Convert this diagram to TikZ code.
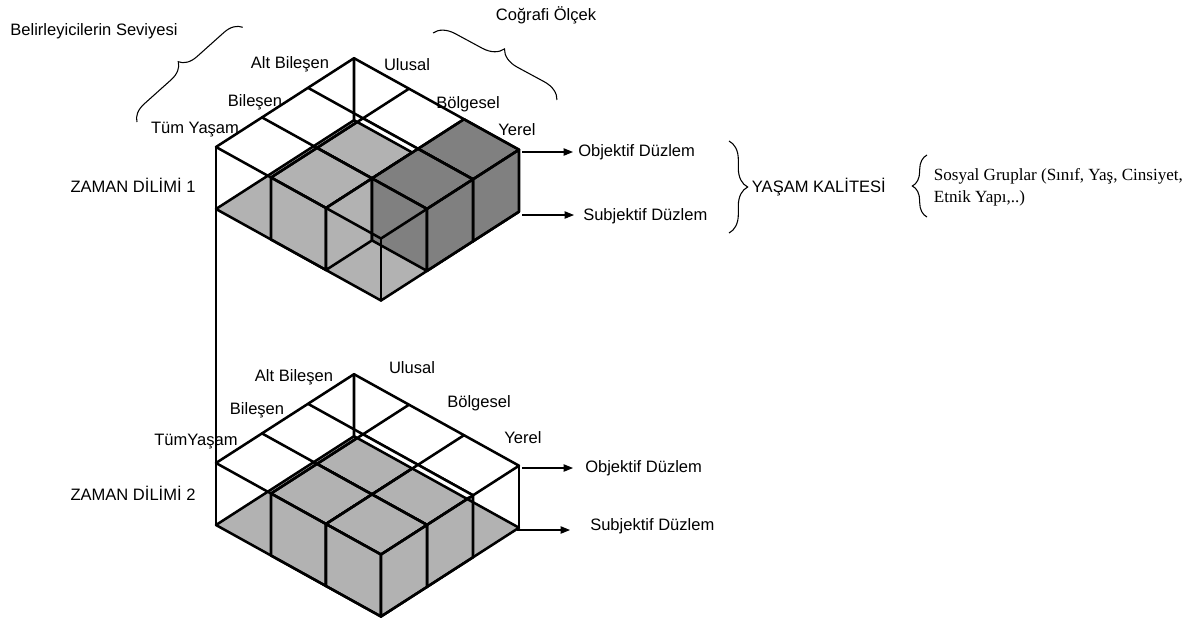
\documentclass[tikz,border=0pt]{standalone}
\usepackage{fontspec}
\setmainfont{Liberation Sans}
\newfontfamily\notefont{Liberation Serif}
\usetikzlibrary{arrows.meta,decorations.pathreplacing}
\definecolor{cellgray}{gray}{0.70}
\definecolor{cellgraydark}{gray}{0.50}

\begin{document}
\begin{tikzpicture}[x=0.75pt, y=-0.75pt, font=\fontsize{12.4}{14.5}\selectfont]
    \newcommand{\solidcell}[3]{
      \filldraw[#3] (#1,#2,1) -- (#1+1,#2,1) -- (#1+1,#2+1,1) -- (#1,#2+1,1) -- cycle;
      \filldraw[#3] (#1,#2,1) -- (#1+1,#2,1) -- (#1+1,#2,0) -- (#1,#2,0) -- cycle;
      \filldraw[#3] (#1+1,#2,1) -- (#1+1,#2+1,1) -- (#1+1,#2+1,0) -- (#1+1,#2,0) -- cycle;
    }
    \newcommand{\backedges}[0]{
      \fill[cellgray] (0,0,0) -- (3,0,0) -- (3,3,0) -- (0,3,0) -- cycle;
      \draw[cubeline] (0,0,0) -- (0,3,0) -- (0,3,1);
    }
    \newcommand{\backstrip}[0]{
      \fill[white] (0,3,0) -- (2,3,0) -- (3,2,1) -- (1,2,1) -- cycle;
      \draw[cubeline] (0,3,0) -- (3,3,0);
    }
    \newcommand{\frontgrid}[0]{
      \foreach \n in {0,...,3} {
        \draw[cubeline] (\n,0,1) -- (\n,3,1) (0,\n,1) -- (3,\n,1);
        \draw[cubeline] (\n,0,1) -- (\n,0,0) (3,\n,1) -- (3,\n,0);
      }
      \draw[cubeline] (0,0,0) -- (3,0,0) -- (3,3,0);
    }

    \tikzstyle{iso} = [x={(41.25pt,-22.875pt)}, y={(34.5pt,22.2pt)}, z={(0pt,46.5pt)}]
    \tikzstyle{cubeline} = [line width=1.9pt, line join=round, line cap=round, draw=black]
    \tikzstyle{lightcell} = [cubeline, fill=cellgray]
    \tikzstyle{darkcell} = [cubeline, fill=cellgraydark]
    \tikzstyle{lbl} = [inner sep=2pt]
    \tikzstyle{dedge} = [line width=0.8pt, -{Triangle[length=7pt,width=5.5pt]}, draw=black]
    \tikzstyle{curly} = [decorate, line width=0.8pt, draw=black]

    \useasboundingbox (0,0) rectangle (1197,626);

    % time slice 1
    \begin{scope}[shift={(216,209)}, iso]
      \backedges
      \solidcell{1}{1}{lightcell}
      \solidcell{1}{0}{lightcell}
      \backstrip
      \solidcell{2}{2}{darkcell}
      \solidcell{2}{1}{darkcell}
      \frontgrid
      \coordinate (base1) at (0,0,0);
    \end{scope}

    % time slice 2
    \begin{scope}[shift={(216,525)}, iso]
      \backedges
      \solidcell{1}{1}{lightcell}
      \solidcell{2}{1}{lightcell}
      \solidcell{1}{0}{lightcell}
      \solidcell{2}{0}{lightcell}
      \backstrip
      \frontgrid
      \coordinate (top2) at (0,0,1);
    \end{scope}

    \draw[cubeline] (base1) -- (top2);

    % axis labels
    \node[lbl] (bel) at (94,31) {Belirleyicilerin Seviyesi};
    \node[lbl] (cog) at (546,15) {Coğrafi Ölçek};
    \coordinate (belA) at (137,122);
    \coordinate (belB) at (243,27);
    \coordinate (cogA) at (433,33);
    \coordinate (cogB) at (557,100);
    \draw[curly, decoration={brace, amplitude=13pt}] (belA) -- (belB);
    \draw[curly, decoration={brace, amplitude=15pt}] (cogA) -- (cogB);

    \node[lbl] (alt1) at (290,64) {Alt Bileşen};
    \node[lbl] (ulu1) at (407,65) {Ulusal};
    \node[lbl] (bil1) at (255,102) {Bileşen};
    \node[lbl] (bol1) at (468,104) {Bölgesel};
    \node[lbl] (tum1) at (195,130) {Tüm Yaşam};
    \node[lbl] (yer1) at (517,130) {Yerel};
    \node[lbl] (zd1) at (133,185) {ZAMAN DİLİMİ 1};

    \node[lbl] (alt2) at (294,377) {Alt Bileşen};
    \node[lbl] (ulu2) at (412,368) {Ulusal};
    \node[lbl] (bil2) at (257,410) {Bileşen};
    \node[lbl] (bol2) at (479,403) {Bölgesel};
    \node[lbl] (tum2) at (196,442) {TümYaşam};
    \node[lbl] (yer2) at (523,438) {Yerel};
    \node[lbl] (zd2) at (133,493) {ZAMAN DİLİMİ 2};

    % planes
    \coordinate (o1) at (522,152);
    \coordinate (s1) at (522,215);
    \coordinate (o2) at (522,468);
    \coordinate (s2) at (517,530);
    \node[lbl, anchor=west, inner xsep=3.75pt] (obj1) at (573,152) {Objektif Düzlem};
    \node[lbl, anchor=west, inner xsep=6.75pt] (sub1) at (574,216) {Subjektif Düzlem};
    \node[lbl, anchor=west, inner xsep=9pt] (obj2) at (573,468) {Objektif Düzlem};
    \node[lbl, anchor=west, inner xsep=15pt] (sub2) at (570,526) {Subjektif Düzlem};
    \draw[dedge] (o1) -- (o1 -| obj1.west);
    \draw[dedge] (s1) -- (s1 -| sub1.west);
    \draw[dedge] (o2) -- (o2 -| obj2.west);
    \draw[dedge] (s2) -- (s2 -| sub2.west);

    % quality of life
    \coordinate (ykA) at (729,141);
    \coordinate (ykB) at (729,233);
    \draw[curly, decoration={brace, amplitude=14pt}] (ykA) -- (ykB);
    \node[lbl, anchor=west] (yk) at (749,187) {YAŞAM KALİTESİ};
    \coordinate (sosA) at (927,217);
    \coordinate (sosB) at (927,155);
    \draw[curly, decoration={brace, amplitude=11pt}] (sosA) -- (sosB);
    \node[lbl, anchor=west, align=left, font={\notefont\fontsize{12.8}{16.5}\selectfont}] (sos) at (931,187)
      {Sosyal Gruplar (Sınıf, Yaş, Cinsiyet,\\Etnik Yapı,..)};
\end{tikzpicture}
\end{document}
